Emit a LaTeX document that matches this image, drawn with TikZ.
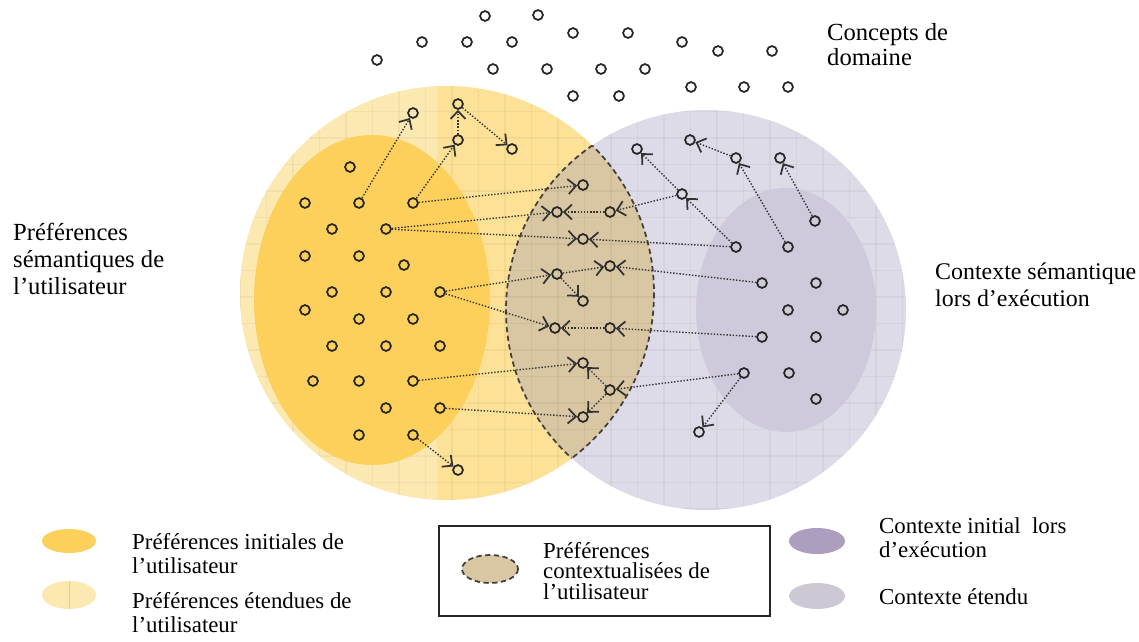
\documentclass[tikz,border=0pt]{standalone}
\usepackage{fontspec}
\setmainfont{Liberation Serif}
\usetikzlibrary{arrows.meta}

\definecolor{prefdark}{RGB}{253,208,92}
\definecolor{preflight}{RGB}{253,225,150}
\definecolor{preflighter}{RGB}{252,233,178}
\definecolor{ctxlight}{RGB}{222,219,232}
\definecolor{ctxdark}{RGB}{206,201,219}
\definecolor{lensfill}{RGB}{217,198,162}
\definecolor{ctxlegend}{RGB}{172,158,190}

\tikzset{
  dot/.style={circle,draw=black!85,line width=1pt,minimum size=5.6pt,inner sep=0pt},
  link/.style={->,densely dotted,line width=0.8pt,draw=black!80},
  lensline/.style={draw=black!75,line width=1pt,dash pattern=on 3pt off 2pt},
  gridline/.style={draw=black,opacity=0.04,line width=0.6pt},
  lbl/.style={anchor=west,align=left,font=\fontsize{13.6}{15.3}\selectfont},
  leg/.style={anchor=west,align=left,font=\fontsize{13}{13.6}\selectfont}
}

\begin{document}
\begin{tikzpicture}[x=0.02cm,y=-0.02cm,>={Straight Barb[length=4.5pt,width=8.5pt,line width=1pt]}]
\useasboundingbox (0,0) rectangle (1139,642);

% the two big discs
    \fill[ctxlight] (706,310) circle[radius=200];
    \fill[preflight] (447,293) circle[radius=207];
    \begin{scope}
      \clip (447,293) circle[radius=207];
      \fill[preflighter] (200,60) rectangle (437,520);
      % overlap of both discs
      \fill[lensfill] (706,310) circle[radius=200];
    \end{scope}

    % faint squared paper over the discs
    \begin{scope}
      \clip (447,293) circle[radius=207] (706,310) circle[radius=200];
      \foreach \gx in {0,...,26}
        \draw[gridline] (240+26.5*\gx,80) -- (240+26.5*\gx,520);
      \foreach \gy in {0,...,17}
        \draw[gridline] (230,85+26.5*\gy) -- (910,85+26.5*\gy);
    \end{scope}

    % initial preferences and initial context
    \fill[prefdark] (372,300) ellipse[x radius=118,y radius=165];
    \fill[ctxdark] (786,310) ellipse[x radius=90,y radius=122];

    % dashed border of the overlap
    \begin{scope}
      \clip (447,293) circle[radius=207];
      \draw[lensline] (706,310) circle[radius=200];
    \end{scope}
    \begin{scope}
      \clip (706,310) circle[radius=200];
      \draw[lensline] (447,293) circle[radius=207];
    \end{scope}

% domain concepts
\foreach \x/\y/\n in {485/16/d1, 538/15/d2, 377/60/d3, 422/42/d4, 467/42/d5,
    512/42/d6, 573/33/d7, 628/33/d8, 682/42/d9, 718/51/d10, 772/51/d11,
    493/69/d12, 547/69/d13, 601/69/d14, 645/69/d15, 573/96/d16, 619/96/d17,
    691/87/d18, 744/87/d19, 788/87/d20}
  \node[dot] (\n) at (\x,\y) {};

% user preferences
\foreach \x/\y/\n in {350/167/u1, 305/203/u2, 359/203/u3, 413/203/u4,
    332/229/u5, 386/229/u6, 305/256/u7, 359/256/u8, 404/265/u9,
    332/292/u10, 386/292/u11, 440/292/u12, 305/310/u13, 359/319/u14,
    413/319/u15, 332/346/u16, 386/346/u17, 440/346/u18, 313/381/u19,
    359/381/u20, 413/381/u21, 386/408/u22, 440/408/u23, 359/435/u24,
    413/435/u25}
  \node[dot] (\n) at (\x,\y) {};

% extended preferences
\foreach \x/\y/\n in {413/113/e1, 458/104/e2, 458/140/e3, 512/149/e4, 458/470/e5}
  \node[dot] (\n) at (\x,\y) {};

% contextualised preferences
\foreach \x/\y/\n in {583/185/p1, 557/212/p2, 610/212/p3, 583/239/p4,
    610/266/p5, 557/274/p6, 583/301/p7, 555/328/p8, 610/328/p9,
    583/363/p10, 610/390/p11, 583/417/p12}
  \node[dot] (\n) at (\x,\y) {};

% runtime context
\foreach \x/\y/\n in {637/149/c1, 690/140/c2, 736/158/c3, 780/158/c4,
    682/194/c5, 815/221/c6, 736/247/c7, 788/247/c8, 762/283/c9,
    816/283/c10, 788/310/c11, 843/310/c12, 762/337/c13, 816/337/c14,
    744/373/c15, 789/373/c16, 816/399/c17, 699/432/c18}
  \node[dot] (\n) at (\x,\y) {};

% spreading links
\foreach \a/\b in {u3/e1, u4/e3, e3/e2, e2/e4, u25/e5,
    u4/p1, u6/p2, u6/p4, u12/p6, u12/p8, u21/p10, u23/p12,
    p6/p7, p6/p5, p3/p2, p9/p8, p11/p10, p11/p12,
    c5/p3, c5/c1, c7/c5, c7/p4, c3/c2, c8/c3, c6/c4,
    c9/p5, c13/p9, c15/p11, c15/c18}
  \draw[link] (\a) -- (\b);

% labels
\node[lbl,font=\fontsize{14}{14.2}\selectfont] (concepts) at (821,45) {Concepts de\\domaine};
\node[lbl,font=\fontsize{14}{15.3}\selectfont] (userpref) at (7,259) {Préférences\\sémantiques de\\l’utilisateur};
\node[lbl] (runctx) at (929,285) {Contexte sémantique\\lors d’exécution};

% legend
\fill[prefdark] (69,541) ellipse[x radius=27,y radius=12];
\fill[preflighter] (69,595) ellipse[x radius=27,y radius=14];
\draw[preflight!70!orange,line width=0.4pt] (69,581) -- (69,609);
\node[leg] (leginit) at (126,554) {Préférences initiales de\\l’utilisateur};
\node[leg] (legext) at (126,613) {Préférences étendues de\\l’utilisateur};

\draw[line width=0.8pt,draw=black!85] (439,526) rectangle (770,616);
\draw[lensline,fill=lensfill] (490,569) ellipse[x radius=28,y radius=14];
\node[anchor=west,align=left,font=\fontsize{13}{11.9}\selectfont] (legctxpref) at (537,571)
  {Préférences\\contextualisées de\\l’utilisateur};

\fill[ctxlegend] (817,541) ellipse[x radius=28,y radius=13];
\fill[ctxlight!92!black] (817,596) ellipse[x radius=28,y radius=13];
\node[leg] (legctxinit) at (873,538) {Contexte initial\ \ lors\\d’exécution};
\node[leg] (legctxext) at (873,597) {Contexte étendu};

\end{tikzpicture}
\end{document}
